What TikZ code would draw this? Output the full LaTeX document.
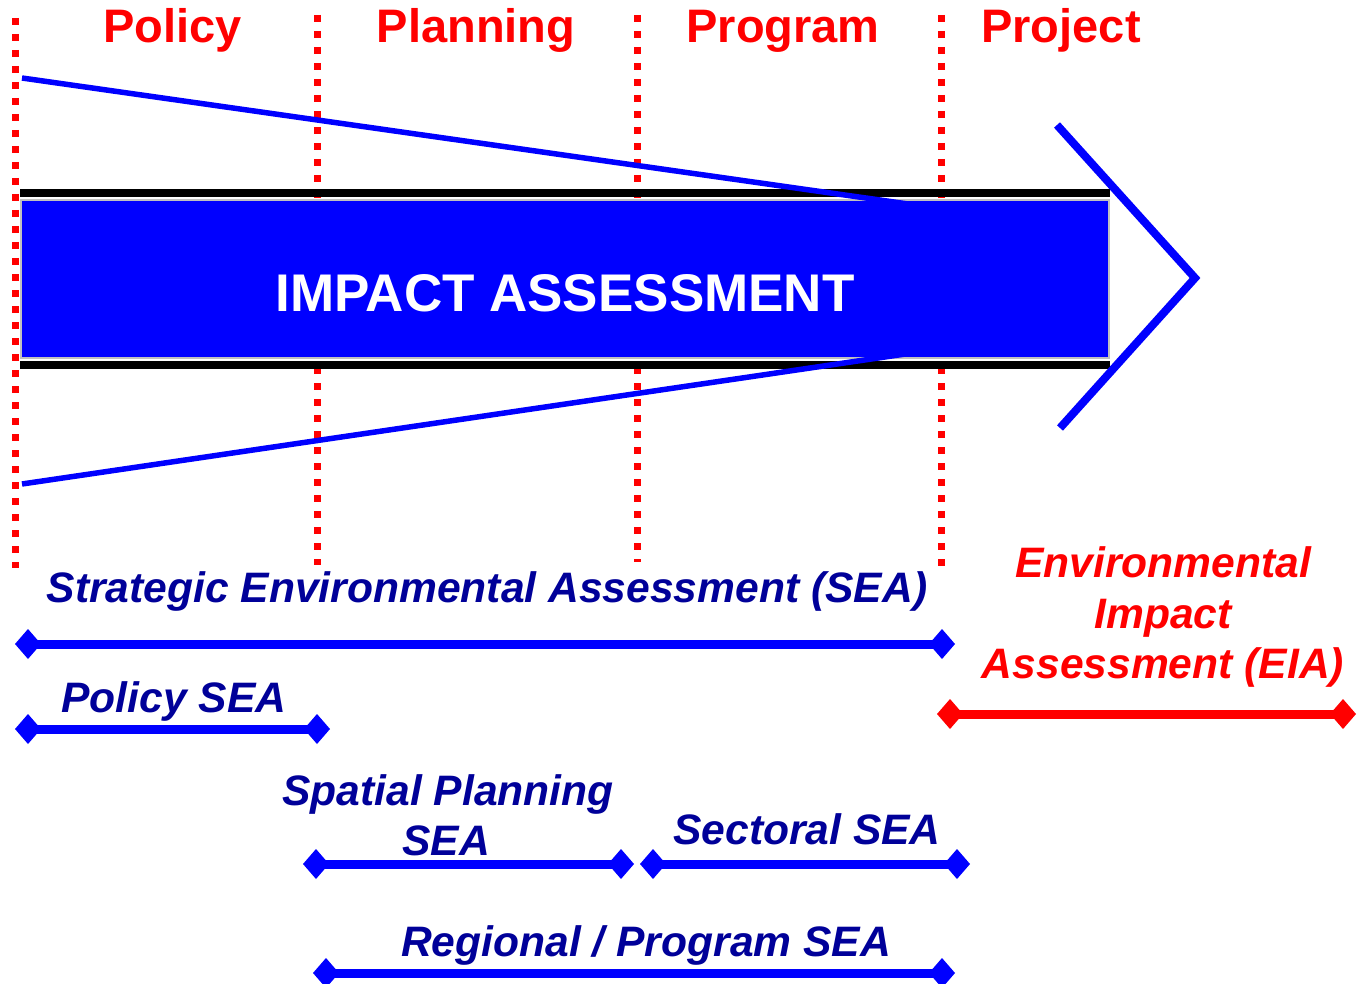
\documentclass[tikz,border=0pt]{standalone}
\usepackage{fontspec}
\setmainfont{Liberation Sans}
\usetikzlibrary{arrows.meta}
\definecolor{navy}{RGB}{0,0,153}
\definecolor{pblue}{RGB}{0,0,255}
\definecolor{pred}{RGB}{255,0,0}
\definecolor{rimgray}{RGB}{192,192,192}
\begin{document}
\begin{tikzpicture}[x=1pt,y=-1pt,
  phase/.style={text=pred, font=\fontsize{47}{56}\selectfont\bfseries, anchor=base, inner sep=0pt},
  sepline/.style={draw=pred, line width=7pt, dash pattern=on 7pt off 9pt},
  conv/.style={draw=pblue, line width=5.5pt},
  lbl/.style={text=navy, font=\fontsize{42.6}{50}\selectfont\bfseries\itshape, anchor=base, inner sep=0pt},
  eia/.style={lbl, text=pred},
  spanline/.style={draw=pblue, line width=9pt, {Diamond[length=26pt,width=30pt]}-{Diamond[length=26pt,width=30pt]}},
  redspan/.style={spanline, draw=pred}
]
\useasboundingbox (0,0) rectangle (1359,984);

% phase separators
\coordinate (s1t) at (15.5,18);  \coordinate (s1b) at (15.5,568);
\coordinate (s2t) at (317,15);   \coordinate (s2b) at (317,565);
\coordinate (s3t) at (637,15);   \coordinate (s3b) at (637,562);
\coordinate (s4t) at (941,15);   \coordinate (s4b) at (941,568);
\draw[sepline] (s1t) -- (s1b);
\draw[sepline] (s2t) -- (s2b);
\draw[sepline] (s3t) -- (s3b);
\draw[sepline] (s4t) -- (s4b);

% phase titles
\node[phase] (policy)   at (172.5,43) {Policy};
\node[phase] (planning) at (476,43) {Planning};
\node[phase] (program)  at (783,43) {Program};
\node[phase] (project)  at (1061,43) {Project};

% black rails
\fill[black] (20,189) rectangle (1110,197);
\fill[black] (20,361) rectangle (1110,369);

% main bar
\draw[draw=rimgray, line width=2pt, fill=pblue] (21,200) rectangle (1109,358);

% converging lines
\coordinate (ctl) at (22,78);  \coordinate (ctr) at (915,205);
\coordinate (cbl) at (22,484); \coordinate (cbr) at (912,353);
\draw[conv] (ctl) -- (ctr);
\draw[conv] (cbl) -- (cbr);

\node[text=white, font=\fontsize{53}{60}\selectfont\bfseries, anchor=base, inner sep=0pt] (impact) at (565,311) {IMPACT ASSESSMENT};

% chevron
\coordinate (ch1) at (1057,125); \coordinate (ch2) at (1195,278); \coordinate (ch3) at (1060,428);
\draw[draw=pblue, line width=8pt] (ch1) -- (ch2) -- (ch3);

% labels
\node[lbl] (sea) at (487,602) {Strategic Environmental Assessment (SEA)};
\node[lbl] (psea) at (174,712) {Policy SEA};
\node[lbl] (sp1) at (448,805) {Spatial Planning};
\node[lbl] (sp2) at (446,855) {SEA};
\node[lbl] (sect) at (807,844) {Sectoral SEA};
\node[lbl] (reg) at (646,956) {Regional / Program SEA};
\node[eia] (eia1) at (1163,577) {Environmental};
\node[eia] (eia2) at (1163,628) {Impact};
\node[eia] (eia3) at (1163,678) {Assessment (EIA)};

% spans
\coordinate (seaL) at (15,644);  \coordinate (seaR) at (955,644);
\coordinate (pL) at (15,729);    \coordinate (pR) at (330,729);
\coordinate (spL) at (303,864);  \coordinate (spR) at (634,864);
\coordinate (scL) at (640,864);  \coordinate (scR) at (970,864);
\coordinate (rgL) at (313,973);  \coordinate (rgR) at (955,973);
\coordinate (eL) at (937,714);   \coordinate (eR) at (1356,714);
\draw[spanline] (seaL) -- (seaR);
\draw[spanline] (pL) -- (pR);
\draw[spanline] (spL) -- (spR);
\draw[spanline] (scL) -- (scR);
\draw[spanline] (rgL) -- (rgR);
\draw[redspan] (eL) -- (eR);
\end{tikzpicture}
\end{document}
